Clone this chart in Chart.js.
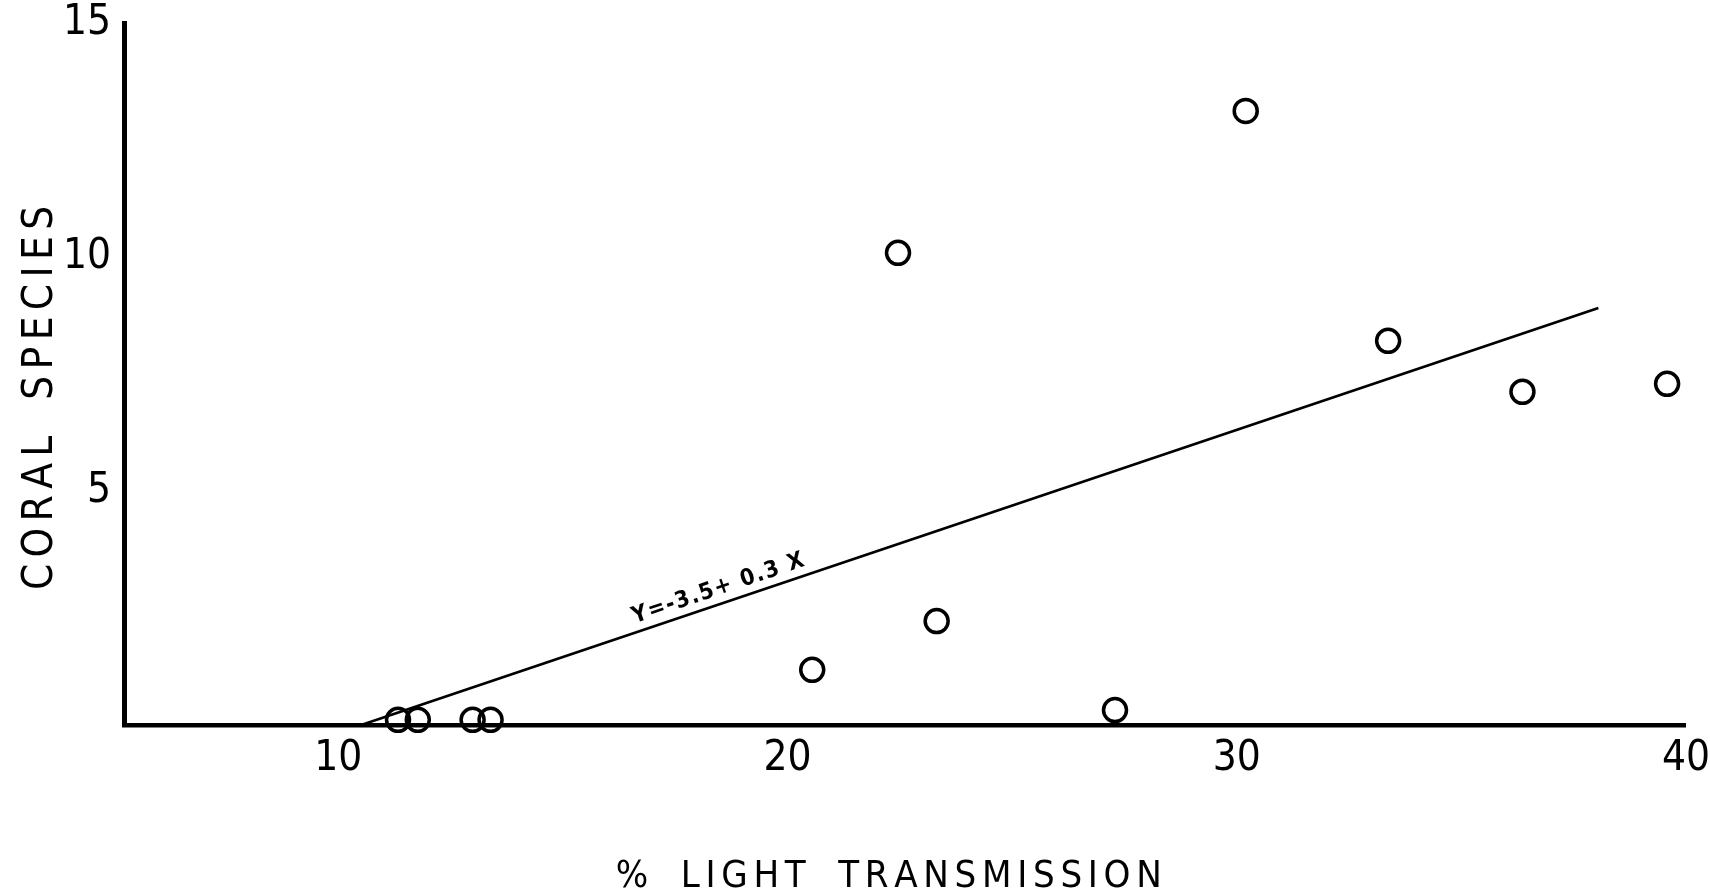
<!DOCTYPE html>
<html>
<head>
<meta charset="utf-8">
<script src="https://cdn.jsdelivr.net/npm/chart.js@4.4.1/dist/chart.umd.min.js"></script>
<style>
html,body{margin:0;background:#fff}
#wrap{width:1710px;height:890px}
</style>
</head>
<body>
<div id="wrap"><canvas id="chart"></canvas></div>
<script>
// values
const lightPct=[11.33,11.77,12.99,13.39,20.55,22.46,23.32,27.29,30.20,33.37,36.36,39.58];
const coralSpecies=[0.11,0.11,0.11,0.11,1.18,10.09,2.22,0.32,13.12,8.21,7.12,7.29];
// regression line as drawn (end points)
const fitX=[10.51,38.05];
const fitY=[0,8.91];
const fitLabel="Y=-3.5+ 0.3 X";
const xTicks=[10,20,30,40];
const yTicks=[5,10,15];

const FONT="'DejaVu Sans Condensed','DejaVu Sans',sans-serif";
const sp="\u2006"; // narrow gap between stencil letters
const spaced=s=>s.split(" ").map(w=>w.split("").join(sp)).join("   ");

// equation written along the fitted line
const eqLabel={
  id:"eqLabel",
  afterDatasetsDraw(chart){
    const xs=chart.scales.x, ys=chart.scales.y, ctx=chart.ctx;
    const x0=xs.getPixelForValue(fitX[0]), y0=ys.getPixelForValue(fitY[0]);
    const x1=xs.getPixelForValue(fitX[1]), y1=ys.getPixelForValue(fitY[1]);
    const ang=Math.atan2(y1-y0,x1-x0);
    const t=0.293;
    const cx=x0+(x1-x0)*t+Math.sin(ang)*15;
    const cy=y0+(y1-y0)*t-Math.cos(ang)*15;
    ctx.save();
    ctx.translate(cx,cy);
    ctx.rotate(ang);
    ctx.font="bold 23px 'DejaVu Sans Condensed','DejaVu Sans'";
    ctx.letterSpacing="1.5px";
    ctx.fillStyle="#000";
    ctx.textAlign="center";
    ctx.textBaseline="middle";
    ctx.fillText(fitLabel,0,0);
    ctx.restore();
  }
};

new Chart(document.getElementById("chart"),{
  type:"scatter",
  data:{
    datasets:[
      {
        data:fitX.map((x,i)=>({x,y:fitY[i]})),
        showLine:true,
        borderColor:"#000",
        borderWidth:2.8,
        pointRadius:0,
        clip:false
      },
      {
        data:lightPct.map((x,i)=>({x,y:coralSpecies[i]})),
        pointStyle:"circle",
        pointRadius:11.5,
        borderWidth:3.5,
        borderColor:"#000",
        backgroundColor:"rgba(0,0,0,0)",
        clip:false
      }
    ]
  },
  options:{
    responsive:true,
    maintainAspectRatio:false,
    animation:false,
    layout:{padding:{top:23,right:20,left:0,bottom:0}},
    plugins:{legend:{display:false},tooltip:{enabled:false}},
    scales:{
      x:{
        type:"linear",
        min:5.23,max:40,
        afterBuildTicks:s=>{s.ticks=xTicks.map(v=>({value:v}));},
        afterFit:s=>{s.height=165;},
        grid:{display:false,drawTicks:false},
        border:{color:"#000",width:4.5},
        ticks:{color:"#000",padding:0,font:{family:FONT,size:42,lineHeight:1.6}},
        title:{
          display:true,
          text:"%"+"   "+spaced("LIGHT TRANSMISSION")+"   ",
          color:"#000",
          font:{family:FONT,size:38,lineHeight:0.6},
          padding:{top:0,bottom:1.5}
        }
      },
      y:{
        type:"linear",
        min:0,max:15,
        afterBuildTicks:s=>{s.ticks=yTicks.map(v=>({value:v}));},
        afterFit:s=>{s.width=124;},
        grid:{display:false,drawTicks:false},
        border:{color:"#000",width:5},
        ticks:{color:"#000",padding:13,font:{family:FONT,size:42,lineHeight:0.3}},
        title:{
          display:true,
          text:spaced("CORAL SPECIES")+"    ",
          color:"#000",
          font:{family:FONT,size:42,lineHeight:1},
          padding:{top:20,bottom:0}
        }
      }
    }
  },
  plugins:[eqLabel]
});
</script>
</body>
</html>
